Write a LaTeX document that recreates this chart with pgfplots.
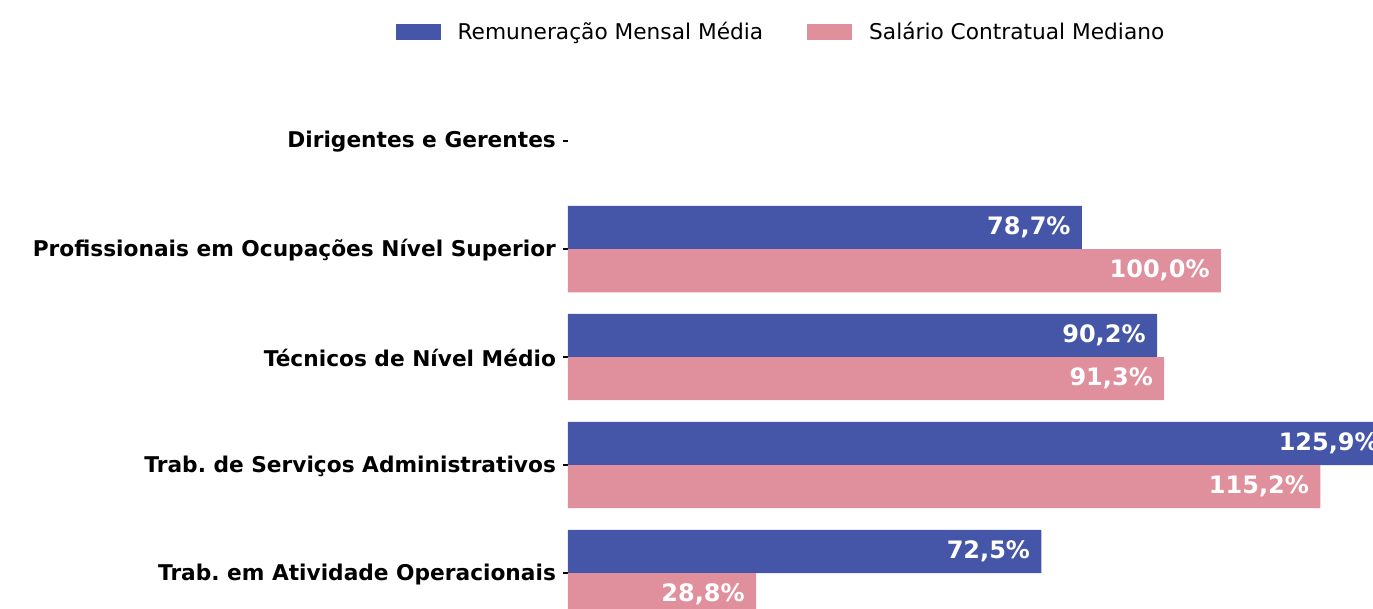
\documentclass[border=0pt]{standalone}
\usepackage{pgfplots}
\pgfplotsset{compat=1.18}
\usepackage{fontspec}
\setmainfont{DejaVu Sans}
\definecolor{cblue}{RGB}{69,85,168}
\definecolor{cpink}{RGB}{224,143,157}
\begin{document}
\frenchspacing
\begin{tikzpicture}
\begin{axis}[
  scale only axis, width=402.5pt, height=304.5pt,
  xmin=0, xmax=123.28, ymin=-1.306, ymax=4.333, y dir=reverse,
  clip=false,
  xbar, bar width=0.4,
  axis line style={draw=none},
  xtick=\empty,
  ytick={0,1,2,3,4},
  yticklabels={Dirigentes e Gerentes, Profissionais em Ocupações Nível Superior, Técnicos de Nível Médio, Trab. de Serviços Administrativos, Trab. em Atividade Operacionais},
  yticklabel style={font=\fontsize{10.85}{13}\selectfont\bfseries, yshift=-0.5pt},
  tick align=outside, ytick pos=left, major tick length=2.5pt,
  tick style={black, line width=0.6pt},
  point meta=x,
  nodes near coords={\pgfmathprintnumber[fixed,fixed zerofill,precision=1,use comma,assume math mode=true]{\pgfplotspointmeta}\%},
  nodes near coords style={anchor=east, inner sep=0pt, xshift=-5.5pt, text=white, font=\fontsize{12}{14}\selectfont\bfseries},
  legend columns=2,
  legend style={at={(0.2658,0.9475)}, anchor=center, draw=none, fill=none,
    font=\fontsize{10.85}{13}\selectfont,
    /tikz/every odd column/.append style={column sep=6.5pt},
    /tikz/every even column/.append style={column sep=20pt}},
  legend image code/.code={\fill[#1] (0pt,-4pt) rectangle (22.5pt,4pt);},
]
\addplot[fill=cblue, draw=none, bar shift=0pt] coordinates {(78.7,0.8) (90.2,1.8) (125.9,2.8) (72.5,3.8)};
\addplot[fill=cpink, draw=none, bar shift=0pt] coordinates {(100.0,1.2) (91.3,2.2) (115.2,3.2) (28.8,4.2)};
\legend{Remuneração Mensal Média, Salário Contratual Mediano}
\end{axis}
\pgfresetboundingbox
\path ([xshift=-284pt]current axis.south west) rectangle (current axis.north east);
\end{tikzpicture}
\end{document}
